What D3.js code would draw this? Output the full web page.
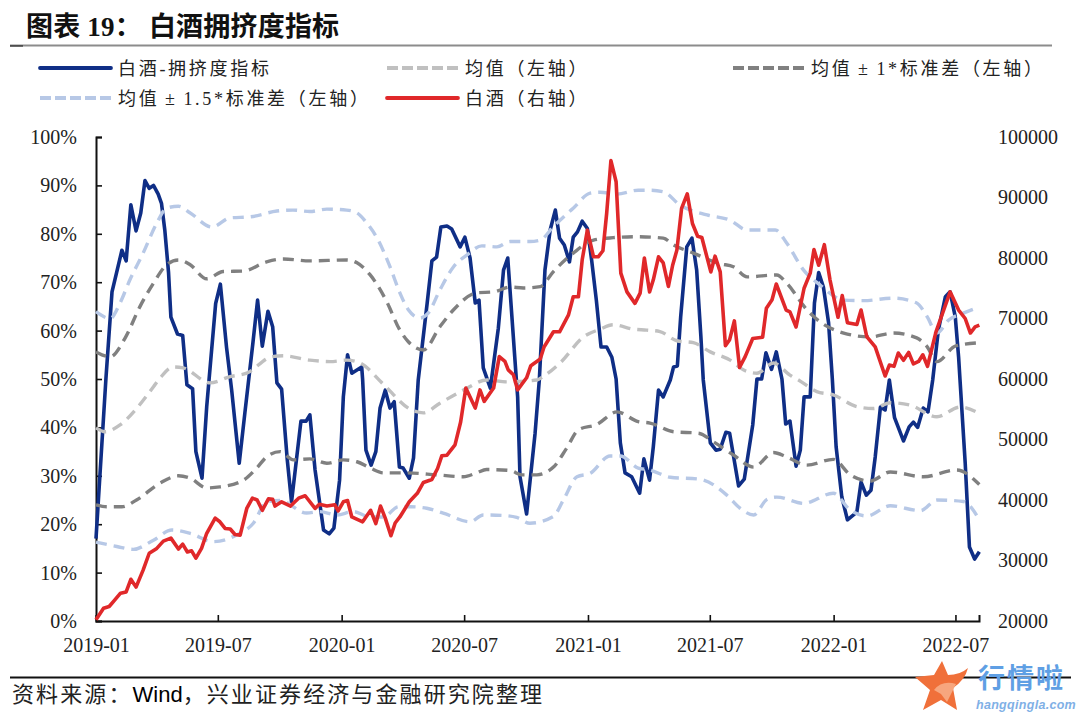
<!DOCTYPE html>
<html><head><meta charset="utf-8">
<script src="https://cdn.jsdelivr.net/npm/d3@7"></script>
<style>
html,body{margin:0;padding:0;background:#fff}
svg{display:block}
</style></head><body><svg id="c" width="1080" height="716"></svg>
<script>
// --- data: [week offset from 2019-01-01, value] ---
const crowding=[[0,17],[2.1,50],[3.4,68],[5.5,76.6],[6.4,74.4],[7.4,86],[8.5,80.6],[9.5,84.3],[10.4,91],[11.3,89.4],[12.2,90],[13.2,88.2],[13.9,86.3],[14.6,80.8],[15.4,72],[15.9,62.8],[17.3,59.3],[18.4,59],[19.3,48.8],[20.5,48],[21.2,35],[22.5,29.5],[23.5,44.3],[25.4,65.6],[26.4,69.6],[27.7,56.6],[28.8,47.7],[30.4,32.6],[31.6,43],[33.3,57.4],[34.3,66.3],[35.3,56.8],[36.5,64],[37.5,60.8],[38.4,49.2],[39.4,47.9],[40.6,33.3],[41.5,24.6],[43.5,41.3],[44.6,41.3],[45.4,42.6],[46.5,31.2],[48.3,18.8],[49.5,18],[50.5,19.2],[51.7,29.1],[52.5,46.3],[53.4,55],[54.3,51.2],[56.4,52.5],[56.6,49.8],[57.3,35.3],[58.4,32.2],[59.4,35],[60.3,44],[61.4,47.7],[62.4,44],[63.3,45.3],[64.4,31.8],[65.2,31.6],[66.5,29.5],[67.4,33.7],[68.4,49.8],[70.3,65.7],[71.3,74.4],[72.3,75.2],[73.2,81.4],[74.5,81.6],[75.5,81],[77.3,77.3],[78.3,79.3],[79.4,75],[80.5,65.7],[81.3,66.3],[82.2,52.3],[83.7,48.1],[85.4,60.5],[86.5,72.5],[87.4,75],[89.2,50.2],[89.5,46.3],[90,29.8],[91.4,22.1],[93.2,38.8],[94.1,49.8],[95.3,72.5],[96.4,80.8],[97.5,84.9],[98.4,79.1],[99.4,77.7],[100.5,74.2],[101.3,79.3],[102.2,80.4],[103.2,82.6],[104.3,81.1],[105.2,74.6],[106.2,66.3],[107.2,56.6],[108.4,56.6],[109.5,54.5],[110.4,50],[111.3,36.8],[112.3,30.6],[113.7,29.8],[115.4,26.4],[116.3,33.5],[117.5,29.1],[118.3,36],[119.4,47.7],[120.4,46.3],[121.9,49.8],[122.6,52.5],[123.4,52.7],[124.1,62.8],[125.4,77.3],[126.5,79.1],[127.5,72.5],[128.4,58.7],[128.9,49.8],[130.4,36.8],[131.6,35.3],[132.5,35.5],[133.7,39],[134.5,38.8],[136.4,27.9],[137.6,29.3],[139.4,40.5],[140.3,50],[141.3,50],[142.2,55.4],[143.4,52],[144.4,55.6],[145.6,50],[146.4,40.7],[147.3,41.3],[148.6,32],[149.5,35.3],[150.3,46.3],[151.6,46.3],[152.5,65.7],[153.4,72],[154.4,69],[155.5,61.6],[156.3,50],[157.1,36],[158.3,25.7],[159.5,20.9],[161.5,22.5],[162.4,28.7],[163.5,26],[164.5,27],[165.4,33.9],[166.5,44.2],[167.5,43.6],[168.4,49.8],[169.5,42],[171.4,37.2],[172.6,40.1],[173.5,41.1],[174.4,40],[175.6,44],[176.6,43.2],[177.6,49.8],[178.8,60.1],[180.3,67],[181.3,68],[182.4,62.8],[183.1,54.5],[183.4,49.8],[184.5,32.6],[185.4,15.3],[186.5,12.8],[187.5,14.3]];
const meanLine=[[0,39.9],[1.9,39.1],[5.1,40.5],[8.6,43.9],[12.2,48.4],[13.6,50.2],[16.4,52.5],[18.5,52.3],[24.2,49.2],[28.5,50.5],[32,51.2],[37.3,54.6],[39.8,54.8],[45.4,53.9],[49.7,53.6],[53.2,53.9],[56.1,53.3],[60.7,49.2],[67,43.6],[69.5,43],[73,45],[78,47.7],[83,49.8],[87.2,49.4],[93.6,49.8],[94.9,50.5],[98.5,53.3],[103.5,58.7],[107,60.3],[109.8,61.2],[114.1,60.3],[116.9,60.1],[119.7,59.8],[123.3,57.9],[126.8,57.5],[130.4,55.6],[134.6,53.9],[137.4,51.9],[140.3,51.2],[143.8,53.3],[147.3,50.8],[149.1,49.8],[153,47.4],[156.5,46.7],[161.5,44.3],[165,43.9],[168.6,45.1],[172.8,44.6],[178.5,42.2],[183.4,44.2],[187.5,42.9]];
const upper1=[[0,55.6],[3,54.6],[6.2,58.5],[9.3,64.9],[12.2,69.8],[15,73.6],[17.5,74.6],[20,73.6],[23.5,70.7],[27,72.2],[31.3,72.3],[36.2,74.2],[39.8,74.8],[45.4,74.4],[53.2,74.6],[55.4,74],[58.2,71.5],[61.7,66],[64.5,60.1],[66.3,57.7],[69.5,56],[73,60.8],[75.9,64.3],[80.8,67.8],[84.4,68],[87.9,69],[90.7,68.8],[94.3,69.1],[97.1,72.2],[101.3,76],[105.6,78.7],[109.8,79.2],[114.8,79.4],[120.4,79.1],[122.6,77.7],[126.8,76],[132.5,73.8],[135.3,73.2],[138.2,71.1],[144.5,71.5],[146.6,69.8],[150.9,64.3],[153.7,61.8],[158.7,59.5],[164.3,58.7],[169.3,59.5],[174.2,58.5],[176.4,56.7],[178.5,53.6],[182.4,56.8],[187.5,57.5]];
const lower1=[[0,24],[2.3,23.6],[5.5,23.6],[8.6,25],[13.6,28.5],[17.5,30],[20,29.5],[23.5,27.5],[26.3,27.7],[31.3,29.1],[34.1,31.6],[36.2,33.9],[39.1,35],[41.9,33.3],[45.4,33.5],[49,32.6],[52.5,33.3],[55.4,32.9],[58.2,31.6],[61,30.6],[66,30.6],[72.3,30.2],[78,29.8],[80.8,30.6],[82.9,31.3],[87.9,31.1],[90.4,30.2],[93.6,30.2],[97.1,31.8],[99.9,35.7],[102.4,39.5],[106.3,40.6],[110.6,43.2],[115.1,41.2],[117.6,40.9],[122.6,39.1],[127.9,38.8],[131.1,37],[135.3,34.3],[139.6,31.8],[143.8,34.8],[146.6,33.9],[150.9,32.2],[156.5,33.4],[160.1,30.2],[164.3,28.9],[168.6,30.8],[175.6,29.8],[182.7,31.2],[187.5,28.2]];
const upper15=[[0,63.9],[3,62.5],[5.1,65.7],[7.2,70.5],[10,76],[12.9,82.2],[15,85.3],[17.5,85.7],[20,84.3],[24.6,81.4],[28.5,83.3],[32.7,83.5],[38.4,84.7],[41.8,84.9],[45.4,84.6],[49,85.1],[53.2,84.9],[55.4,84.3],[57.5,82.2],[59.9,78.7],[62.4,73.2],[64.5,67.8],[66.3,64.3],[68.8,62.6],[70.5,63.6],[73,68.4],[75.9,73.2],[78.7,75.6],[81.9,77.5],[85.1,77.3],[87.9,78.4],[92.1,78.4],[94.3,78.7],[97.1,81.5],[101.3,85.3],[104.9,88.4],[107,88.6],[110.6,88.2],[115.1,89],[117.6,89],[120.4,88.7],[124,85.9],[129.7,83.9],[134.6,82.8],[138.2,80.8],[144.2,80.8],[146.6,78.1],[150.2,72.5],[153.7,69.4],[158.7,66.3],[162.9,66.2],[169.3,66.7],[174.2,65.7],[176.4,62.9],[178.5,59.5],[181,62.2],[184.1,63.6],[187.5,64.9]];
const lower15=[[0,16.3],[4.4,15.4],[7.9,14.8],[12.2,16.7],[16.1,18.8],[20,18.1],[24.9,16.4],[29.9,17.8],[33.4,20.2],[36.2,24.6],[39.1,24.9],[44.7,22.3],[47.6,22.6],[51.1,21.9],[54.6,22.6],[58.2,21.5],[61,21.5],[64.2,23.6],[66.7,23.6],[70.2,23.3],[73.7,22.3],[79.4,20.5],[82.2,21.9],[86.5,21.8],[89.3,21.4],[92.1,20.2],[97.1,21.6],[99.2,25],[102.1,29.8],[104.9,30.5],[109.1,34.1],[111.3,34.1],[115.1,31.6],[117.6,31.2],[121.9,29.7],[128.2,29.3],[133.9,26],[136.7,23.3],[139.6,21.9],[142.4,25.1],[144.5,25.6],[150.2,24.3],[156.5,26.4],[160.1,22.9],[163.6,21.7],[168.6,23.8],[175,22.8],[178.5,25],[184.1,24.7],[187.5,20.9]];
const baijiu=[[0,20200],[1.6,22100],[2.8,22400],[4,23500],[5.2,24600],[6.4,24800],[7.4,26900],[8.5,25600],[10,28400],[11.3,31200],[12.9,32000],[14.3,33200],[15.9,33700],[17.5,31900],[18.4,32700],[19.4,31400],[20.3,31600],[21.2,30400],[22.4,32000],[23.5,34500],[25.3,37000],[26.3,36400],[27.4,35300],[28.5,35200],[29.5,34300],[30.6,34200],[32,38600],[33.2,40300],[34.2,40000],[35.3,38300],[36.6,40200],[37.5,40100],[38,39000],[39.4,39700],[41.3,39000],[43,40300],[44.4,40700],[46.5,38600],[47.4,39300],[49,39000],[50.7,39200],[51.4,38200],[52.5,39700],[53.4,39900],[54.3,37200],[56.6,36400],[58.3,38300],[59.4,36100],[60.4,39000],[61.4,37000],[62.6,34100],[63.5,36200],[64.5,37200],[66.5,39700],[68.2,41100],[69.5,42900],[71.3,43400],[72.5,45200],[73.4,47300],[74.5,47400],[76.2,49100],[77.4,52900],[78.5,58500],[80.5,55200],[81.5,58200],[82.4,56300],[84.4,58500],[85.6,63700],[86.8,62900],[87.5,61500],[88.6,60700],[89.5,58200],[91.4,60200],[92.3,62200],[94.3,63300],[95.1,65300],[97.1,67800],[98.4,67800],[100.3,70600],[101.3,73600],[102.4,73600],[103.2,79700],[104.3,84600],[105.6,80200],[106.6,80200],[107.6,81200],[108.4,87400],[109.3,96100],[110.4,92600],[111.4,77500],[112.7,74400],[114.4,72500],[115.5,74200],[116.4,80000],[117.5,74400],[118.3,76400],[119.4,80200],[120.4,79200],[121.5,75300],[122.4,78800],[123.3,81300],[124.3,88200],[125.5,90600],[126.6,85700],[127.7,83600],[128.6,83400],[130.5,77700],[131.4,80300],[132.5,77700],[133.6,65500],[134.5,66500],[135.5,69600],[136.6,61900],[137.8,63700],[139.4,66700],[141.5,66900],[142.3,71700],[143.5,73100],[144.4,75700],[146.5,71400],[147.3,71100],[148.6,68600],[150.3,75000],[151.6,77500],[152.4,81400],[153.4,78800],[154.6,82200],[155.8,76400],[157.5,70200],[158.4,73800],[159.5,69300],[161.5,69000],[162.4,71400],[163.6,67000],[165.4,65300],[167.5,60500],[168.4,62300],[169.4,62100],[170.3,64300],[171.4,63100],[172.5,64400],[173.5,62500],[174.6,62900],[175.5,64000],[176.5,62100],[178.3,67800],[181.3,74400],[183.1,71400],[184.5,70000],[185.6,67600],[186.6,68600],[187.5,68900]];
const xTickLabels=["2019-01","2019-07","2020-01","2020-07","2021-01","2021-07","2022-01","2022-07"];
const leftTicks=[0,10,20,30,40,50,60,70,80,90,100];
const rightTicks=[20000,30000,40000,50000,60000,70000,80000,90000,100000];
const legendNames=["白酒-拥挤度指标","均值（左轴）","均值 ± 1*标准差（左轴）","均值 ± 1.5*标准差（左轴）","白酒（右轴）"];
const titleText="图表 19： 白酒拥挤度指标";
const sourceParts=["资料来源：","Wind","，兴业证券经济与金融研究院整理"];

// --- layout ---
const L=96,R=979,T=137,B=621;
const cjk='"Liberation Serif","Noto Sans CJK SC",serif';
const BLUE="#0f2e86",RED="#e0282a",LG="#c0c0c0",DG="#808080",LB="#b7c8e6";
const svg=d3.select("#c");
const start=new Date(2019,0,1);
const weekDate=w=>d3.timeHour.offset(start,Math.round(w*168));
const x=d3.scaleTime().domain([start,new Date(2022,7,5)]).range([L,R]);
const yL=d3.scaleLinear().domain([0,100]).range([B,T]);
const yR=d3.scaleLinear().domain([20000,100000]).range([B,T]);

// header
svg.append("text").attr("x",26).attr("y",36)
  .style("font",`bold 27px ${cjk}`).style("letter-spacing","0.2px").style("white-space","pre").attr("fill","#111").text(titleText);
svg.append("line").attr("x1",10).attr("x2",1052).attr("y1",45.5).attr("y2",45.5).attr("stroke","#8c8c8c").attr("stroke-width",2);
svg.append("line").attr("x1",10).attr("x2",23).attr("y1",46).attr("y2",46).attr("stroke","#111").attr("stroke-width",1);

// axes
const axL=d3.axisLeft(yL).tickValues(leftTicks).tickFormat(d=>d+"%").tickSize(-6).tickPadding(19);
const gL=svg.append("g").attr("transform",`translate(${L},0)`).call(axL);
const axB=d3.axisBottom(x).tickValues(xTickLabels.map(s=>{const[p,q]=s.split("-");return new Date(+p,+q-1,1);})).tickFormat(d3.timeFormat("%Y-%m")).tickSize(-6).tickPadding(17);
const gB=svg.append("g").attr("transform",`translate(0,${B})`).call(axB);
const axR=d3.axisRight(yR).tickValues(rightTicks).tickFormat(d3.format("d")).tickSize(0).tickPadding(19);
const gR=svg.append("g").attr("transform",`translate(${R},0)`).call(axR);
gR.select(".domain").remove();
[gL,gB,gR].forEach(g=>{
  g.selectAll("text").attr("fill","#222").style("font",'20px "Liberation Serif",serif');
  g.selectAll("line").attr("stroke","#111").attr("stroke-width",1.6);
  g.selectAll(".domain").attr("stroke","#111").attr("stroke-width",2);
});
gB.selectAll("text").attr("dy","0.71em");

// series
const lineL=d3.line().x(d=>x(weekDate(d[0]))).y(d=>yL(d[1]));
const lineR=d3.line().x(d=>x(weekDate(d[0]))).y(d=>yR(d[1]));
const smoothL=d3.line().curve(d3.curveMonotoneX).x(d=>x(weekDate(d[0]))).y(d=>yL(d[1]));
const series=[
 {data:crowding,gen:lineL,color:BLUE,w:3.6},
 {data:meanLine,gen:smoothL,color:LG,w:3.4,dash:"11 7"},
 {data:upper1,gen:smoothL,color:DG,w:3.4,dash:"11 7"},
 {data:lower1,gen:smoothL,color:DG,w:3.4,dash:"11 7"},
 {data:upper15,gen:smoothL,color:LB,w:3.4,dash:"11 7"},
 {data:lower15,gen:smoothL,color:LB,w:3.4,dash:"11 7"},
 {data:baijiu,gen:lineR,color:RED,w:3.6}
];
svg.append("g").selectAll("path").data(series).join("path")
  .attr("d",s=>s.gen(s.data)).attr("fill","none").attr("stroke",s=>s.color)
  .attr("stroke-width",s=>s.w).attr("stroke-dasharray",s=>s.dash||null).attr("stroke-linejoin","round");

// legend
const legCols=[40,387,733],legRows=[68,98];
const legend=[
 {c:0,r:0,color:BLUE},{c:1,r:0,color:LG,dash:"11 4"},{c:2,r:0,color:DG,dash:"11 4"},
 {c:0,r:1,color:LB,dash:"11 4"},{c:1,r:1,color:RED}
];
const lg=svg.append("g").selectAll("g").data(legend).join("g")
  .attr("transform",d=>`translate(${legCols[d.c]},${legRows[d.r]})`);
lg.append("line").attr("x1",0).attr("x2",71).attr("stroke",d=>d.color).attr("stroke-width",3.8)
  .attr("stroke-linecap",d=>d.dash?"butt":"round").attr("stroke-dasharray",d=>d.dash||null);
lg.append("text").attr("x",78).attr("y",6.5).attr("fill","#222").style("font",`18px ${cjk}`)
  .style("letter-spacing","2.7px").style("word-spacing","-1.5px").text((d,i)=>legendNames[i]);

// footer
svg.append("line").attr("x1",10).attr("x2",1071).attr("y1",677.5).attr("y2",677.5).attr("stroke","#111").attr("stroke-width",2);
const src=svg.append("text").attr("x",12).attr("y",702).attr("fill","#222")
  .style("font",'22px "Liberation Sans","Noto Sans CJK SC",sans-serif');
src.selectAll("tspan").data(sourceParts).join("tspan")
  .style("letter-spacing",(d,i)=>i===1?"0px":"2.1px").attr("fill",(d,i)=>i===1?"#000":"#222").text(d=>d);

// watermark
const wm=svg.append("g");
wm.append("path").attr("d","M942 661 L948 675 Q960 675 968 668 Q965 680 953 688 L957 710 L941 700 L923 710 L930 690 L915 677 L934 675 Z").attr("fill","#f0703a");
wm.append("path").attr("d","M934 690 Q942 680 956 684 L947 702 L941 694 Z").attr("fill","#f7a67e");
wm.append("text").attr("x",978).attr("y",688).attr("fill","#5f9fe4").style("font",'bold 27px "Noto Sans CJK SC",sans-serif').style("letter-spacing","2px").text("行情啦");
wm.append("text").attr("x",976).attr("y",709).attr("fill","#7fb0e6").style("font",'italic bold 12.5px "Liberation Sans",sans-serif').style("letter-spacing","0.3px").text("hangqingla.com");
</script></body></html>
